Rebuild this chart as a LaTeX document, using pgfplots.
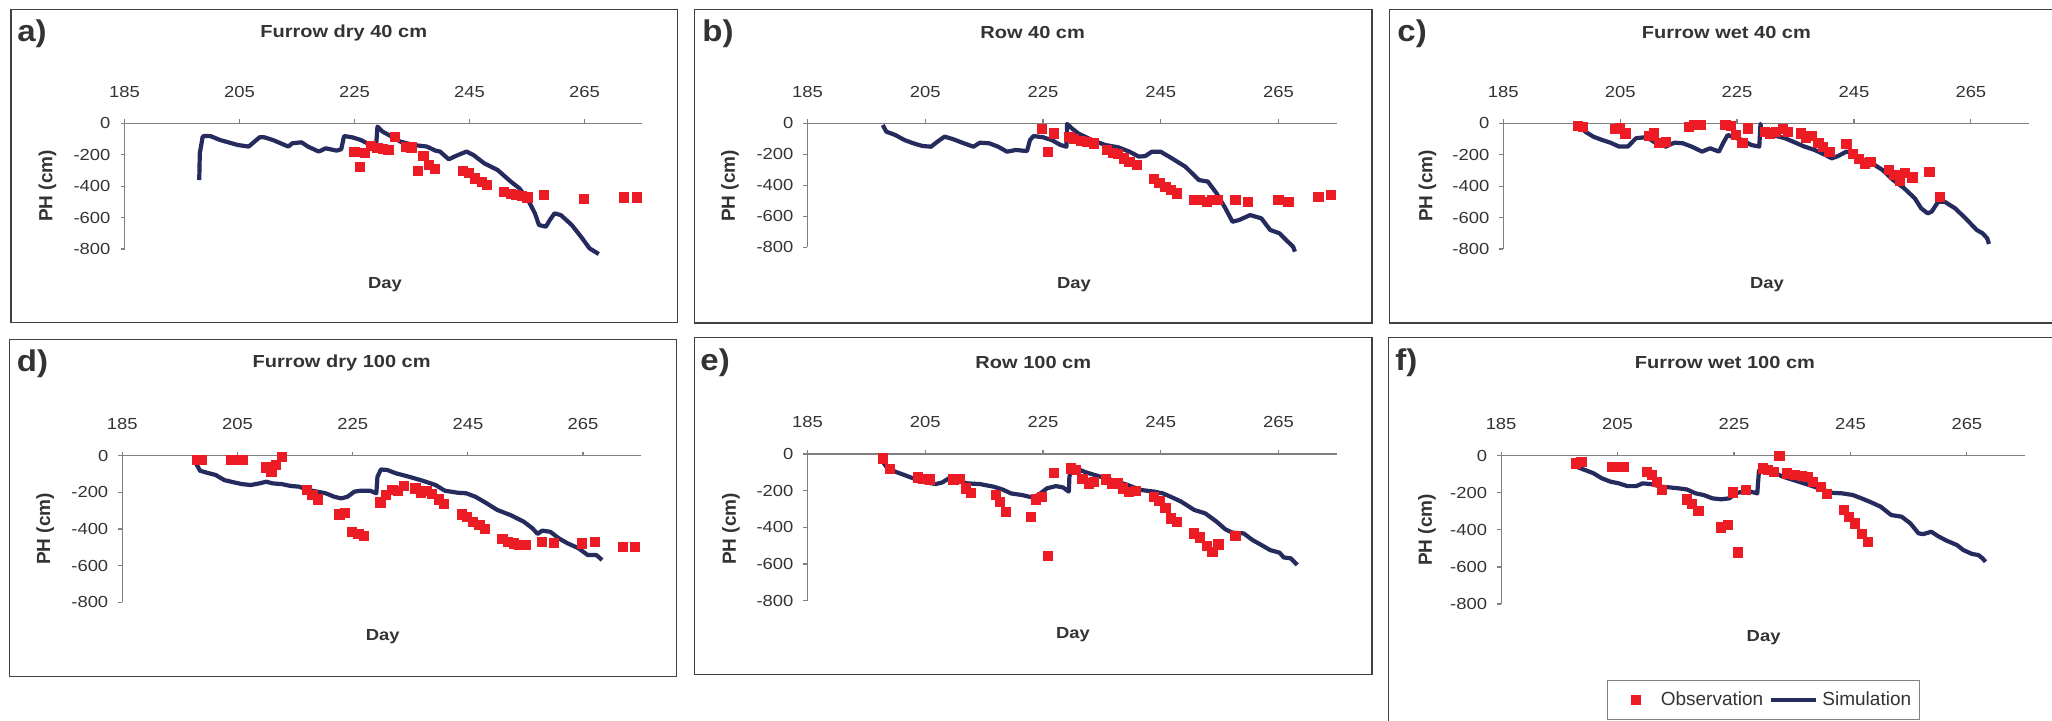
\documentclass[border=0pt]{standalone}
\usepackage{pgfplots}
\pgfplotsset{compat=1.18}
\usepackage{fontspec}
\setmainfont{Liberation Sans}[FakeStretch=1.15]
\newfontfamily\plainfont{Liberation Sans}
\newfontfamily\letfont{Liberation Sans}[FakeStretch=1.1]
\definecolor{obsred}{HTML}{ED1C24}
\definecolor{simblue}{HTML}{262B5E}
\definecolor{txt}{HTML}{333333}
\definecolor{axgray}{HTML}{808080}
\definecolor{framec}{HTML}{404040}
\pgfplotsset{
  panel/.style={
    scale only axis,
    xmin=185, xmax=275, ymin=-800, ymax=0,
    axis x line*=top, axis y line*=left,
    axis line style={axgray, line width=0.6pt, -},
    xtick={185,205,225,245,265}, xticklabels={185,205,225,245,265},
    ytick={-800,-600,-400,-200,0}, yticklabels={-800,-600,-400,-200,0},
    tick style={axgray, line width=0.6pt},
    major tick length=2pt, tick align=outside,
    xticklabel style={font=\fontsize{8}{9}\selectfont, text=txt, yshift=7.5pt},
    yticklabel style={font=\fontsize{8}{9}\selectfont, text=txt, xshift=-1.5pt},
    clip=false,
  },
  obs/.style={only marks, mark=square*, mark size=2.3pt, color=obsred, mark options={fill=obsred, draw=none}},
  sim/.style={no marks, color=simblue, line width=2.1pt, line join=round},
  simlegend/.style={legend image code/.code={\draw[##1] (1pt,0pt) -- (23.5pt,0pt);}},
  obslegend/.style={legend image code/.code={\path (0pt,0pt) (22pt,0pt); \draw[##1] plot coordinates {(12pt,0pt)};}},
}
\begin{document}
\begin{tikzpicture}
% ---------------- a) ----------------
\begin{axis}[panel, at={(62.25pt,-124.5pt)}, anchor=south west, width=258.7pt, height=62.85pt]
\addplot[obs] coordinates {(225.0,-180) (225.9,-276) (226.8,-187) (227.8,-142) (229.0,-155) (229.9,-163) (230.9,-170) (232.1,-89) (233.9,-149) (234.9,-153) (236.1,-301) (237.0,-208) (238.0,-265) (239.0,-291) (243.9,-301) (244.9,-314) (245.9,-350) (247.2,-371) (248.1,-393) (251.0,-435) (252.2,-450) (253.1,-456) (254.1,-463) (255.1,-471) (257.9,-456) (264.9,-482) (271.9,-471) (274.1,-471)};
\addplot[sim] coordinates {(198.0,-361) (198.1,-191) (198.6,-85) (199.0,-80) (200.0,-82) (201.6,-106) (204.7,-138) (206.6,-148) (208.5,-89) (209.3,-89) (210.8,-106) (213.5,-148) (214.2,-127) (215.8,-121) (216.9,-148) (218.8,-180) (220.0,-159) (221.9,-174) (222.7,-165) (223.2,-81) (224.6,-89) (226.1,-106) (227.6,-134) (228.8,-130) (229.0,-21) (229.9,-53) (231.5,-85) (233.0,-117) (235.3,-138) (237.6,-148) (239.1,-174) (239.9,-180) (241.4,-229) (243.0,-202) (244.5,-180) (245.7,-202) (247.6,-255) (249.9,-297) (252.2,-371) (253.7,-414) (255.2,-488) (256.4,-573) (257.1,-647) (258.3,-658) (259.0,-615) (259.8,-573) (260.9,-584) (262.8,-647) (264.4,-721) (265.9,-796) (267.5,-832)};
\end{axis}
% ---------------- b) ----------------
\begin{axis}[panel, at={(403.7pt,-123.65pt)}, anchor=south west, width=264.95pt, height=62pt]
\addplot[obs] coordinates {(224.8,-37) (226.8,-65) (225.9,-183) (229.5,-90) (230.3,-103) (231.4,-112) (232.5,-118) (233.7,-129) (235.9,-172) (236.9,-189) (237.8,-198) (238.7,-226) (239.7,-247) (240.9,-269) (243.9,-361) (244.8,-383) (245.8,-409) (246.8,-430) (247.7,-452) (250.7,-495) (251.6,-495) (252.8,-505) (253.7,-495) (254.7,-495) (257.7,-495) (259.8,-505) (265.0,-495) (266.7,-505) (271.8,-473) (273.9,-462)};
\addplot[sim] coordinates {(197.8,-11) (198.4,-54) (199.9,-75) (201.5,-108) (203.0,-129) (204.5,-146) (206.0,-151) (207.1,-118) (208.3,-86) (209.8,-103) (211.3,-125) (213.2,-151) (214.3,-125) (215.9,-129) (217.4,-151) (218.9,-183) (220.4,-172) (222.3,-179) (222.8,-108) (223.4,-82) (225.0,-90) (226.5,-108) (228.0,-140) (229.0,-151) (229.1,-4) (229.9,-32) (231.0,-65) (233.3,-108) (235.6,-140) (237.8,-155) (239.7,-183) (241.3,-215) (242.4,-211) (243.5,-183) (245.0,-183) (246.9,-226) (249.2,-280) (251.5,-366) (253.0,-376) (254.5,-452) (256.0,-549) (257.2,-635) (258.3,-624) (260.2,-592) (262.1,-613) (263.6,-688) (265.2,-710) (266.3,-753) (267.5,-796) (267.8,-828)};
\end{axis}
% ---------------- c) ----------------
\begin{axis}[panel, at={(751.65pt,-124.5pt)}, anchor=south west, width=263pt, height=62.85pt]
\addplot[obs] coordinates {(197.7,-17) (198.6,-21) (204.1,-36) (205.0,-32) (205.9,-64) (209.9,-81) (210.8,-64) (211.7,-123) (212.8,-117) (216.8,-25) (217.7,-11) (218.8,-11) (223.0,-11) (223.9,-17) (224.8,-74) (225.9,-123) (226.8,-32) (229.7,-53) (230.6,-64) (231.7,-53) (232.8,-38) (233.7,-53) (235.9,-64) (236.8,-95) (237.7,-81) (238.9,-127) (239.7,-148) (240.8,-180) (243.7,-132) (244.8,-195) (245.9,-229) (246.8,-255) (247.8,-244) (251.0,-297) (251.9,-329) (252.8,-365) (253.7,-314) (255.0,-344) (257.9,-308) (259.7,-467)};
\addplot[sim] coordinates {(197.9,-4) (199.0,-53) (200.4,-85) (201.9,-106) (203.3,-123) (204.8,-148) (206.3,-148) (207.7,-95) (209.2,-89) (210.3,-106) (211.3,-132) (212.8,-148) (214.3,-123) (215.7,-127) (217.2,-148) (219.0,-180) (220.4,-159) (221.9,-180) (222.6,-127) (223.4,-74) (224.4,-89) (225.9,-106) (227.4,-138) (228.8,-148) (229.0,-4) (229.2,-53) (231.0,-74) (233.2,-95) (234.6,-117) (236.5,-148) (238.3,-170) (240.1,-202) (241.2,-223) (242.3,-208) (243.7,-180) (244.8,-191) (246.3,-233) (248.1,-255) (249.9,-297) (251.7,-361) (253.6,-414) (255.4,-477) (256.5,-541) (257.6,-573) (258.3,-562) (259.4,-499) (260.5,-499) (262.3,-541) (264.1,-605) (266.0,-679) (267.0,-700) (267.8,-732) (268.1,-768)};
\end{axis}
% ---------------- d) ----------------
\begin{axis}[panel, at={(61.15pt,-301.15pt)}, anchor=south west, width=259.2pt, height=73.3pt]
\addplot[obs] coordinates {(197.9,-24) (198.8,-24) (203.9,-24) (205.0,-24) (206.0,-24) (210.0,-64) (210.9,-87) (211.7,-51) (212.7,-5) (217.0,-187) (218.0,-215) (218.9,-238) (222.7,-320) (223.7,-311) (224.9,-415) (226.0,-427) (226.9,-438) (229.8,-255) (230.7,-215) (231.9,-187) (232.9,-191) (233.9,-165) (235.9,-178) (236.9,-205) (237.8,-191) (238.8,-209) (240.0,-238) (240.9,-264) (243.9,-320) (244.8,-333) (245.8,-360) (247.0,-378) (248.0,-400) (251.0,-456) (252.0,-469) (253.0,-478) (253.9,-487) (255.0,-487) (257.9,-469) (260.0,-475) (264.8,-478) (267.1,-469) (271.9,-496) (274.0,-496)};
\addplot[sim] coordinates {(197.8,-42) (198.5,-82) (199.7,-93) (201.2,-105) (202.7,-133) (204.3,-145) (205.8,-155) (207.3,-160) (208.8,-151) (210.0,-142) (211.1,-151) (212.7,-155) (214.2,-165) (215.7,-169) (217.2,-187) (218.8,-196) (220.3,-205) (221.8,-224) (223.0,-233) (224.1,-224) (225.3,-196) (226.4,-191) (228.0,-191) (229.1,-205) (229.3,-115) (229.9,-75) (231.0,-78) (232.5,-96) (234.8,-115) (237.1,-136) (239.4,-160) (241.0,-191) (243.2,-202) (244.7,-205) (246.3,-224) (247.8,-251) (250.1,-296) (252.4,-324) (254.7,-360) (256.2,-396) (257.1,-427) (257.9,-409) (259.3,-415) (260.8,-451) (262.3,-478) (264.2,-505) (265.8,-542) (267.3,-542) (268.3,-569)};
\end{axis}
% ---------------- e) ----------------
\begin{axis}[panel, at={(403.7pt,-300.35pt)}, anchor=south west, width=264.95pt, height=73.35pt]
\addplot[obs] coordinates {(197.8,-24) (199.0,-82) (203.7,-127) (204.6,-136) (205.8,-138) (209.8,-138) (210.9,-136) (211.9,-187) (212.8,-211) (217.0,-224) (217.7,-260) (218.7,-315) (222.9,-342) (223.8,-247) (224.8,-233) (225.9,-556) (226.8,-102) (229.7,-78) (230.6,-87) (231.7,-136) (232.8,-160) (233.7,-151) (235.7,-138) (236.7,-160) (237.7,-160) (238.6,-187) (239.6,-205) (240.8,-202) (243.9,-233) (244.8,-255) (245.8,-296) (246.8,-351) (247.7,-369) (250.7,-433) (251.6,-455) (252.8,-502) (253.8,-533) (254.8,-493) (257.7,-447)};
\addplot[sim] coordinates {(197.8,-42) (198.4,-69) (199.9,-96) (201.5,-115) (203.0,-133) (204.5,-151) (206.8,-164) (207.9,-155) (209.0,-133) (210.2,-142) (212.1,-160) (214.3,-164) (216.6,-178) (218.1,-193) (219.6,-215) (221.5,-224) (223.1,-236) (224.2,-224) (225.7,-187) (227.2,-175) (228.4,-182) (229.4,-205) (229.5,-124) (229.9,-73) (231.0,-84) (232.5,-102) (234.8,-124) (237.1,-145) (239.4,-169) (241.6,-196) (243.9,-205) (245.4,-215) (246.9,-236) (248.5,-260) (250.7,-305) (252.6,-324) (254.5,-369) (256.0,-411) (257.2,-429) (259.1,-433) (260.6,-469) (262.1,-496) (263.6,-524) (265.2,-538) (265.9,-564) (267.1,-569) (268.2,-605)};
\end{axis}
% ---------------- f) ----------------
\begin{axis}[panel, at={(750.55pt,-302pt)}, anchor=south west, width=262pt, height=74.15pt,
  legend columns=2,
  legend style={at={(0.2021,-0.5125)}, anchor=north west, draw=axgray, line width=0.6pt,
    font=\plainfont\fontsize{9.5}{11.5}\selectfont, text=txt, inner xsep=2pt, inner ysep=3.5pt,
    /tikz/every even column/.append style={column sep=1pt}},
  legend cell align=left]
\addplot[obs, obslegend] coordinates {(197.8,-41) (198.8,-32) (204.1,-59) (205.1,-59) (206.0,-59) (210.0,-86) (210.9,-104) (211.8,-140) (212.6,-185) (216.9,-236) (217.8,-262) (218.9,-298) (222.8,-387) (223.9,-374) (224.8,-198) (225.7,-521) (227.0,-185) (229.9,-68) (230.8,-77) (231.9,-86) (232.8,-2) (234.1,-95) (235.5,-104) (236.6,-110) (237.6,-113) (238.5,-140) (239.9,-167) (241.0,-207) (243.9,-293) (244.8,-329) (245.8,-365) (247.0,-423) (248.0,-464)};
\addlegendentry{Observation}
\addplot[sim, simlegend] coordinates {(197.9,-59) (199.4,-77) (200.9,-95) (202.3,-122) (203.8,-140) (205.2,-149) (206.7,-164) (208.2,-164) (209.3,-149) (210.7,-153) (212.5,-167) (214.0,-171) (215.5,-176) (216.9,-182) (218.4,-203) (219.8,-212) (221.3,-230) (222.8,-235) (224.2,-230) (225.3,-203) (226.4,-194) (227.9,-194) (229.0,-203) (229.3,-77) (230.1,-74) (231.5,-86) (233.4,-113) (235.2,-131) (237.4,-153) (239.6,-176) (241.8,-200) (243.6,-203) (245.4,-212) (246.9,-230) (248.3,-248) (250.2,-275) (252.0,-320) (253.8,-329) (255.3,-365) (256.7,-419) (257.5,-423) (258.9,-410) (260.0,-433) (261.5,-458) (263.3,-482) (264.4,-509) (265.9,-530) (267.0,-536) (267.7,-554) (268.2,-572)};
\addlegendentry{Simulation}
\end{axis}
% ---------------- frames and texts (pixel units) ----------------
\begin{scope}[x=0.5pt, y=-0.5pt, every node/.style={text=txt}]
\draw[framec, line width=0.6pt] (11,9.3) rectangle (677.7,322.7);
\draw[framec, line width=0.6pt] (694.5,9.3) rectangle (1372,323);
\draw[framec, line width=0.6pt] (2070,9.3) -- (1389.3,9.3) -- (1389.3,323) -- (2070,323);
\draw[framec, line width=0.6pt] (9.7,339.3) rectangle (676.8,676.7);
\draw[framec, line width=0.6pt] (694.5,337.3) rectangle (1372,674.3);
\draw[framec, line width=0.6pt] (2070,337.3) -- (1388.4,337.3) -- (1388.4,740);
\tikzset{lett/.style={anchor=west, inner sep=0pt, font=\letfont\bfseries\fontsize{15}{16}\selectfont},
  ttl/.style={font=\bfseries\fontsize{8.7}{10}\selectfont},
  dayl/.style={font=\bfseries\fontsize{8}{9}\selectfont},
  phl/.style={rotate=90, font=\plainfont\bfseries\fontsize{9.5}{10}\selectfont}}
\node[lett] at (17,34) {a)};
\node[lett] at (702,34) {b)};
\node[lett] at (1397,34) {c)};
\node[lett] at (16.6,364) {d)};
\node[lett] at (700,363) {e)};
\node[lett] at (1395,363) {f)};
\node[ttl] at (343.7,33) {Furrow dry 40 cm};
\node[ttl] at (1032.6,33) {Row 40 cm};
\node[ttl] at (1726.4,33) {Furrow wet 40 cm};
\node[ttl] at (341.7,363) {Furrow dry 100 cm};
\node[ttl] at (1033.3,362) {Row 100 cm};
\node[ttl] at (1724.9,362) {Furrow wet 100 cm};
\node[dayl] at (385,285) {Day};
\node[dayl] at (1074,285) {Day};
\node[dayl] at (1767,285) {Day};
\node[dayl] at (382.8,637) {Day};
\node[dayl] at (1073,635) {Day};
\node[dayl] at (1763.6,638) {Day};
\node[phl] at (47.5,186) {PH (cm)};
\node[phl] at (730,186) {PH (cm)};
\node[phl] at (1427.5,186) {PH (cm)};
\node[phl] at (45.3,529) {PH (cm)};
\node[phl] at (731,529) {PH (cm)};
\node[phl] at (1427,530) {PH (cm)};
\end{scope}
\pgfresetboundingbox
\path[use as bounding box] (0,0) rectangle (1026pt,-360pt);
\end{tikzpicture}
\end{document}
